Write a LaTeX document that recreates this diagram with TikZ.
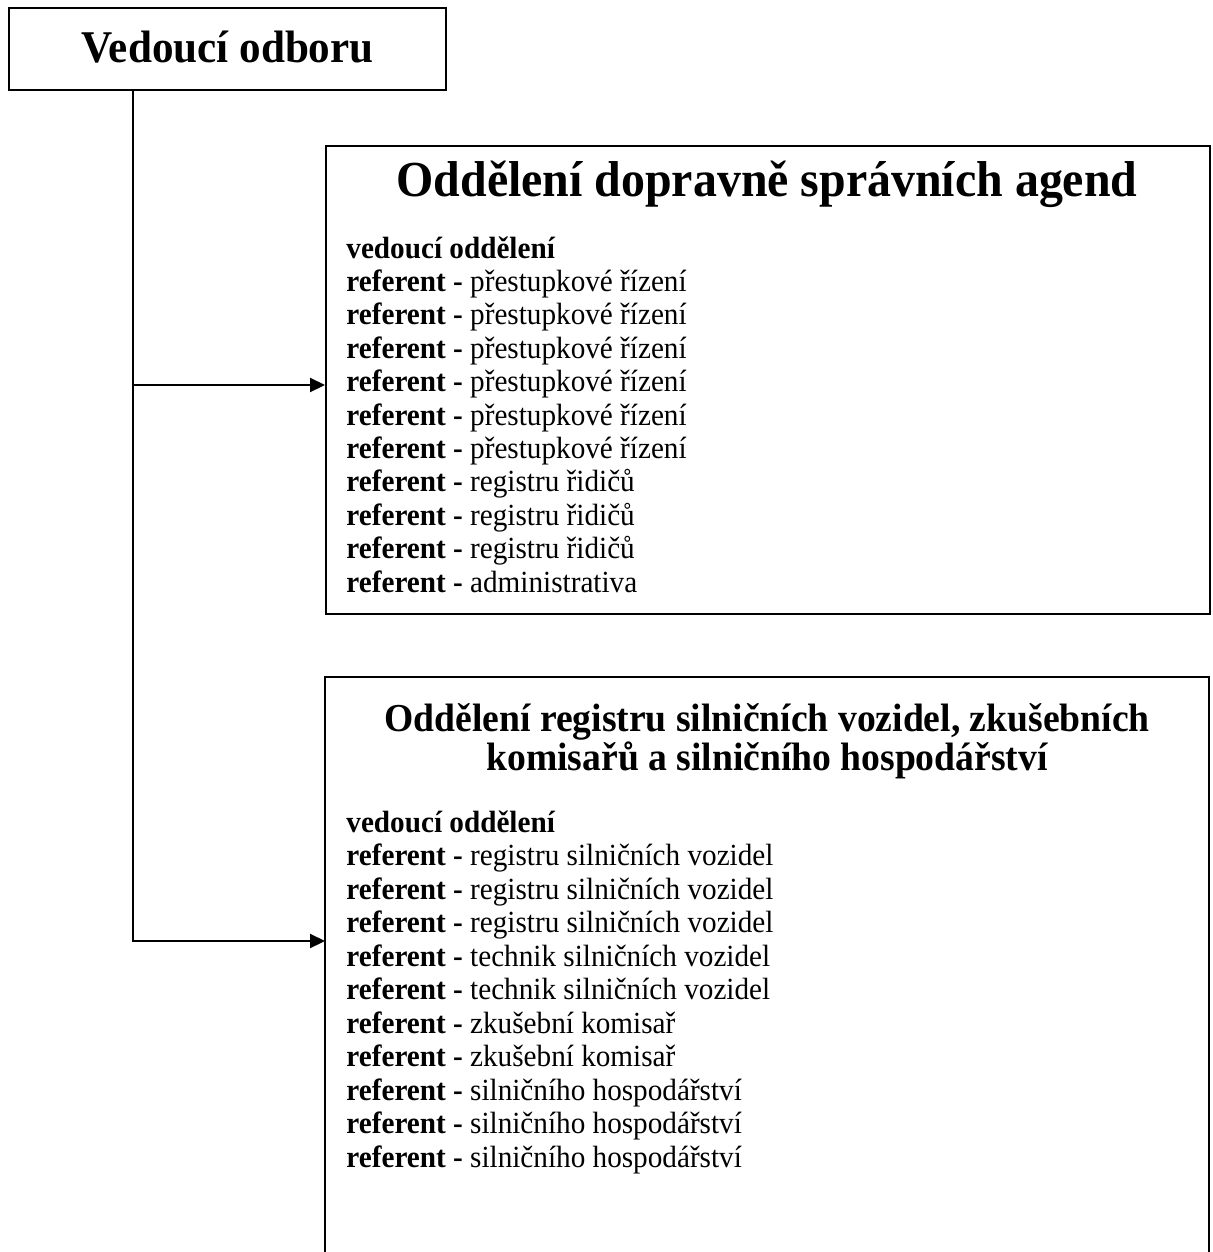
\documentclass[tikz,border=0pt]{standalone}
\usepackage{fontspec}
\setmainfont{Liberation Serif}[FakeStretch=0.95]
\usetikzlibrary{arrows.meta}
\tikzset{
  unitbox/.style={draw, line width=1.2pt, inner sep=0pt},
  conn/.style={line width=1.1pt, -{Triangle[length=7.5pt,width=7pt]}},
  item/.style={anchor=base west, inner sep=0pt, font=\fontsize{15.37}{16.7}\selectfont},
  head/.style={anchor=base, inner sep=0pt, font=\bfseries\fontsize{25.2}{26}\selectfont},
}
\begin{document}
\begin{tikzpicture}[x=0.5pt,y=-0.5pt]
    \useasboundingbox (0,0) rectangle (1213,1252);
    \node[unitbox, anchor=north west, minimum width=218.5pt, minimum height=41pt,
          font=\bfseries\fontsize{22.7}{24}\selectfont] (chief) at (8,7) {\raisebox{2.5pt}{Vedoucí odboru}}; % Vedoucí
    \node[unitbox, anchor=north west, minimum width=442pt, minimum height=234pt] (dept1) at (325,145) {}; % 1. Oddělení
    \coordinate (dept2) at (325,677);
    \draw[line width=1.2pt] (325,1262) |- (1209,677) -- (1209,1262); % 2. Oddělení, unten offen

    \node[head] (head1) at (767,196) {Oddělení dopravně správních agend};
    \node[head, font=\bfseries\fontsize{19.8}{20}\selectfont] (head2a) at (767,731) {Oddělení registru silničních vozidel, zkušebních};
    \node[head, font=\bfseries\fontsize{19.8}{20}\selectfont] (head2b) at (767,770) {komisařů a silničního hospodářství};

    \node[item] (boss1) at (346,258) {\textbf{vedoucí oddělení}};
    \foreach \job [count=\i] in {přestupkové řízení, přestupkové řízení, přestupkové řízení,
        přestupkové řízení, přestupkové řízení, přestupkové řízení,
        registru řidičů, registru řidičů, registru řidičů, administrativa}
      \node[item] (ref1-\i) at (346,{258+33.4*\i}) {\textbf{referent -} \job}; % Referenten 1

    \node[item] (boss2) at (346,832) {\textbf{vedoucí oddělení}};
    \foreach \job [count=\i] in {registru silničních vozidel, registru silničních vozidel,
        registru silničních vozidel, technik silničních vozidel, technik silničních vozidel,
        zkušební komisař, zkušební komisař, silničního hospodářství,
        silničního hospodářství, silničního hospodářství}
      \node[item] (ref2-\i) at (346,{832+33.5*\i}) {\textbf{referent -} \job}; % Referenten 2

    \coordinate (trunk) at (133,89);
    \coordinate (in1) at (325,385);
    \coordinate (in2) at (325,941);
    \draw[conn] (trunk) |- (in2);        % Hauptlinie
    \draw[conn] (trunk |- in1) -- (in1); % Abzweig
\end{tikzpicture}
\end{document}
